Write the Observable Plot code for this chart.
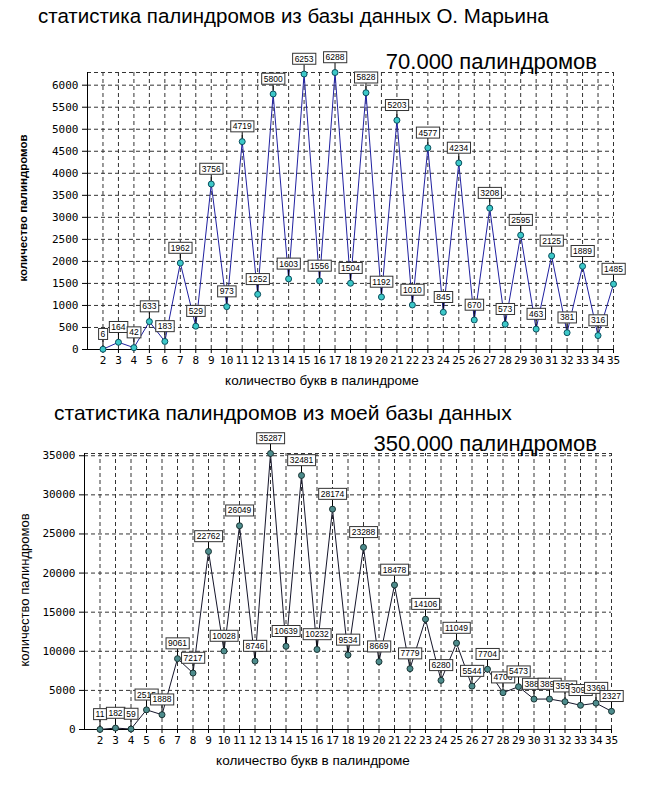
<!DOCTYPE html>
<html><head><meta charset="utf-8">
<script src="https://cdn.jsdelivr.net/npm/d3@7"></script>
<script src="https://cdn.jsdelivr.net/npm/@observablehq/plot@0.6"></script>
<style>
body{margin:0;background:#fff;}
#wrap{position:relative;width:650px;height:800px;font-family:"Liberation Sans",Arial,sans-serif;overflow:hidden;}
.t{position:absolute;white-space:nowrap;color:#000;line-height:1;}
.chart{position:absolute;left:0;}
.ylab{position:absolute;white-space:nowrap;line-height:1;transform:translate(-50%,-50%) rotate(-90deg);}
.xlab{position:absolute;white-space:nowrap;line-height:1;transform:translateX(-50%);}
</style></head><body>
<div id="wrap">
  <div class="chart" id="c1" style="top:0px"></div>
  <div class="chart" id="c2" style="top:395px"></div>
  <div class="t" style="left:38px;top:6px;font-size:20.5px">статистика палиндромов из базы данных О. Марьина</div>
  <div class="t" style="right:53px;top:51px;font-size:22px">70.000 палиндромов</div>
  <div class="xlab" style="left:322px;top:374px;font-size:13.5px">количество букв в палиндроме</div>
  <div class="ylab" style="left:24px;top:208px;font-size:11.5px;font-weight:bold">количество палиндромов</div>
  <div class="t" style="left:54px;top:402px;font-size:21px">статистика палиндромов из моей базы данных</div>
  <div class="t" style="right:53px;top:433px;font-size:22px">350.000 палиндромов</div>
  <div class="xlab" style="left:313px;top:754px;font-size:13.5px">количество букв в палиндроме</div>
  <div class="ylab" style="left:24px;top:590px;font-size:13px">количество палиндромов</div>
</div>
<script>
// Data
const lengths = [2,3,4,5,6,7,8,9,10,11,12,13,14,15,16,17,18,19,20,21,22,23,24,25,26,27,28,29,30,31,32,33,34,35];
const marinCounts = [6,164,42,633,183,1962,529,3756,973,4719,1252,5800,1603,6253,1556,6288,1504,5828,1192,5203,1010,4577,845,4234,670,3208,573,2595,463,2125,381,1889,316,1485];
const myCounts = [11,182,59,2515,1888,9061,7217,22762,10028,26049,8746,35287,10639,32481,10232,28174,9534,23288,8669,18478,7779,14106,6280,11049,5544,7704,4706,5473,3886,3896,3551,3093,3369,2327];
const marinTicks = [0,500,1000,1500,2000,2500,3000,3500,4000,4500,5000,5500,6000];
const myTicks = [0,5000,10000,15000,20000,25000,30000,35000];

const stemSymbol = {draw(ctx){ ctx.moveTo(0,0); ctx.lineTo(0,-9.5); }};

function makeChart(el, counts, ticks, opts) {
  const data = lengths.map((x,i)=>({x, y: counts[i]}));
  const yMax = d3.max(counts);
  const grid = {stroke:"#333", strokeDasharray:"4,3", strokeWidth:1};
  const p = Plot.plot({
    width: 650, height: opts.height,
    marginLeft: opts.ml, marginRight: opts.mr, marginTop: opts.mt, marginBottom: opts.mb,
    x: {domain:[1,35]},
    y: {domain:[0,yMax]},
    style: {background:"transparent", overflow:"visible", fontFamily:"DejaVu Sans Mono", fontSize:"11px", color:"#000"},
    marks: [
      Plot.ruleX(lengths, {x: d=>d, y1: 0, y2: yMax, ...grid}),
      Plot.ruleY([...ticks.slice(1), yMax], {y: d=>d, x1: 1, x2: 35, ...grid}),
      Plot.ruleX([1], {x: d=>d, y1: 0, y2: yMax, stroke:"#000"}),
      Plot.ruleY([0], {y: d=>d, x1: 1, x2: 35, stroke:"#000"}),
      Plot.axisY(ticks, {anchor:"left", tickSize:5, tickPadding:4, label:null, tickFormat: d3.format("d"), fontFamily:"DejaVu Sans Mono", fontSize:11}),
      Plot.axisX(lengths, {anchor:"bottom", tickSize:4, tickPadding:3, label:null, tickFormat: d3.format("d"), fontFamily:"DejaVu Sans Mono", fontSize:11}),
      Plot.line(data, {x:"x", y:"y", stroke: opts.line, strokeWidth:1}),
      Plot.dot(data, {x:"x", y:"y", symbol: stemSymbol, fill:"none", stroke:"#000", strokeWidth:1}),
      Plot.dot(data, {x:"x", y:"y", r:3, fill: opts.dotFill, stroke: opts.dotStroke, strokeWidth:1}),
      Plot.text(data, {x:"x", y:"y", text: d=>String(d.y), dy:-15, fontSize:8.5, fontFamily:"Liberation Sans", fill:"#000", className:"ptlabel"})
    ]
  });
  el.appendChild(p);
  // white bordered boxes behind each label, in drawing order (later boxes cover earlier ones)
  p.querySelectorAll("g.ptlabel text").forEach(t => {
    const bb = t.getBBox();
    const r = document.createElementNS("http://www.w3.org/2000/svg","rect");
    const cy = bb.y + bb.height / 2;
    r.setAttribute("x", bb.x - 2);
    r.setAttribute("y", cy - 5.5);
    r.setAttribute("width", bb.width + 4);
    r.setAttribute("height", 11);
    r.setAttribute("fill", "#fff");
    r.setAttribute("stroke", "#333");
    r.setAttribute("stroke-width", 1);
    const tr = t.getAttribute("transform");
    if (tr) r.setAttribute("transform", tr);
    t.parentNode.insertBefore(r, t);
  });
}

makeChart(document.getElementById("c1"), marinCounts, marinTicks,
  {height:395, ml:87, mr:37, mt:72, mb:46, line:"#2020a0", dotFill:"#3cc8c8", dotStroke:"#0b4f5e"});
makeChart(document.getElementById("c2"), myCounts, myTicks,
  {height:405, ml:84, mr:39, mt:58, mb:71, line:"#15152a", dotFill:"#4d8c8c", dotStroke:"#1a3434"});
</script>
</body></html>
